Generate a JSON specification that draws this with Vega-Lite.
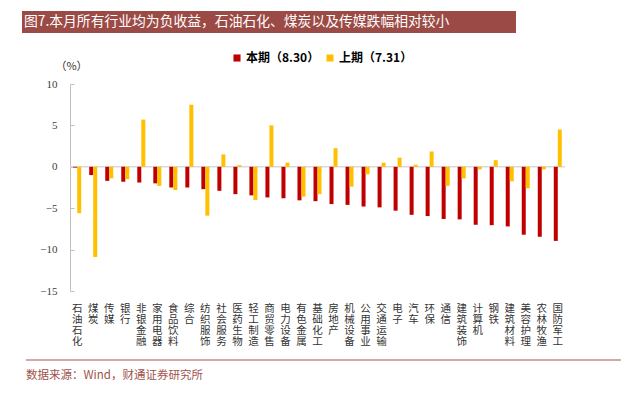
{
  "$schema": "https://vega.github.io/schema/vega-lite/v6.json",
  "background": "white",
  "padding": {"left": 21, "top": 11, "right": 0, "bottom": 0},
  "bounds": "flush",
  "spacing": 51,
  "config": {"view": {"stroke": null}},
  "vconcat": [
    {
      "width": 495,
      "height": 22,
      "data": {"values": [{"title": "图7.本月所有行业均为负收益，石油石化、煤炭以及传媒跌幅相对较小"}]},
      "layer": [
        {
          "mark": {"type": "rect", "color": "#9C4A45"},
          "encoding": {
            "x": {"datum": -0.097, "type": "quantitative", "scale": {"domain": [0, 1]}, "axis": null},
            "x2": {"datum": 0.901},
            "y": {"datum": 0, "type": "quantitative", "scale": {"domain": [0, 1]}, "axis": null},
            "y2": {"datum": 1}
          }
        },
        {
          "mark": {"type": "text", "align": "left", "baseline": "middle", "dx": 2, "color": "white", "font": "Noto Sans CJK SC", "fontSize": 13.8},
          "encoding": {
            "text": {"field": "title"},
            "x": {"datum": -0.097, "type": "quantitative"},
            "y": {"datum": 0.5, "type": "quantitative"}
          }
        }
      ]
    },
    {
      "width": 495,
      "height": 207,
      "data": {"values": [
        {"industry": "石油石化", "period": "本期（8.30）", "value": -0.1},
        {"industry": "石油石化", "period": "上期（7.31）", "value": -5.6},
        {"industry": "煤炭", "period": "本期（8.30）", "value": -1.0},
        {"industry": "煤炭", "period": "上期（7.31）", "value": -10.9},
        {"industry": "传媒", "period": "本期（8.30）", "value": -1.7},
        {"industry": "传媒", "period": "上期（7.31）", "value": -1.4},
        {"industry": "银行", "period": "本期（8.30）", "value": -1.8},
        {"industry": "银行", "period": "上期（7.31）", "value": -1.5},
        {"industry": "非银金融", "period": "本期（8.30）", "value": -1.9},
        {"industry": "非银金融", "period": "上期（7.31）", "value": 5.7},
        {"industry": "家用电器", "period": "本期（8.30）", "value": -2.0},
        {"industry": "家用电器", "period": "上期（7.31）", "value": -2.3},
        {"industry": "食品饮料", "period": "本期（8.30）", "value": -2.5},
        {"industry": "食品饮料", "period": "上期（7.31）", "value": -2.8},
        {"industry": "综合", "period": "本期（8.30）", "value": -2.5},
        {"industry": "综合", "period": "上期（7.31）", "value": 7.5},
        {"industry": "纺织服饰", "period": "本期（8.30）", "value": -2.7},
        {"industry": "纺织服饰", "period": "上期（7.31）", "value": -5.9},
        {"industry": "社会服务", "period": "本期（8.30）", "value": -2.9},
        {"industry": "社会服务", "period": "上期（7.31）", "value": 1.5},
        {"industry": "医药生物", "period": "本期（8.30）", "value": -3.3},
        {"industry": "医药生物", "period": "上期（7.31）", "value": 0.2},
        {"industry": "轻工制造", "period": "本期（8.30）", "value": -3.45},
        {"industry": "轻工制造", "period": "上期（7.31）", "value": -4.0},
        {"industry": "商贸零售", "period": "本期（8.30）", "value": -3.7},
        {"industry": "商贸零售", "period": "上期（7.31）", "value": 5.0},
        {"industry": "电力设备", "period": "本期（8.30）", "value": -3.8},
        {"industry": "电力设备", "period": "上期（7.31）", "value": 0.5},
        {"industry": "有色金属", "period": "本期（8.30）", "value": -4.05},
        {"industry": "有色金属", "period": "上期（7.31）", "value": -3.6},
        {"industry": "基础化工", "period": "本期（8.30）", "value": -4.15},
        {"industry": "基础化工", "period": "上期（7.31）", "value": -3.3},
        {"industry": "房地产", "period": "本期（8.30）", "value": -4.5},
        {"industry": "房地产", "period": "上期（7.31）", "value": 2.25},
        {"industry": "机械设备", "period": "本期（8.30）", "value": -4.6},
        {"industry": "机械设备", "period": "上期（7.31）", "value": -2.4},
        {"industry": "公用事业", "period": "本期（8.30）", "value": -4.8},
        {"industry": "公用事业", "period": "上期（7.31）", "value": -0.9},
        {"industry": "交通运输", "period": "本期（8.30）", "value": -4.9},
        {"industry": "交通运输", "period": "上期（7.31）", "value": 0.5},
        {"industry": "电子", "period": "本期（8.30）", "value": -5.3},
        {"industry": "电子", "period": "上期（7.31）", "value": 1.1},
        {"industry": "汽车", "period": "本期（8.30）", "value": -5.8},
        {"industry": "汽车", "period": "上期（7.31）", "value": 0.25},
        {"industry": "环保", "period": "本期（8.30）", "value": -5.95},
        {"industry": "环保", "period": "上期（7.31）", "value": 1.85},
        {"industry": "通信", "period": "本期（8.30）", "value": -6.3},
        {"industry": "通信", "period": "上期（7.31）", "value": -2.3},
        {"industry": "建筑装饰", "period": "本期（8.30）", "value": -6.35},
        {"industry": "建筑装饰", "period": "上期（7.31）", "value": -1.4},
        {"industry": "计算机", "period": "本期（8.30）", "value": -7.0},
        {"industry": "计算机", "period": "上期（7.31）", "value": -0.3},
        {"industry": "钢铁", "period": "本期（8.30）", "value": -7.05},
        {"industry": "钢铁", "period": "上期（7.31）", "value": 0.8},
        {"industry": "建筑材料", "period": "本期（8.30）", "value": -7.2},
        {"industry": "建筑材料", "period": "上期（7.31）", "value": -1.75},
        {"industry": "美容护理", "period": "本期（8.30）", "value": -8.2},
        {"industry": "美容护理", "period": "上期（7.31）", "value": -2.6},
        {"industry": "农林牧渔", "period": "本期（8.30）", "value": -8.45},
        {"industry": "农林牧渔", "period": "上期（7.31）", "value": -0.3},
        {"industry": "国防军工", "period": "本期（8.30）", "value": -8.95},
        {"industry": "国防军工", "period": "上期（7.31）", "value": 4.5}
      ]},
      "layer": [
        {
          "data": {"values": [{}]},
          "mark": {"type": "rule", "color": "#d9d9d9", "strokeWidth": 1.5},
          "encoding": {"y": {"datum": 0, "type": "quantitative"}}
        },
        {
          "mark": {"type": "bar"},
          "encoding": {
            "x": {
              "field": "industry", "type": "nominal", "sort": null,
              "scale": {"paddingInner": 0.5, "paddingOuter": 0.2},
              "axis": {
                "title": null, "domain": false, "ticks": false, "labelAngle": 0,
                "labelExpr": "split(datum.label, '')",
                "labelBaseline": "top", "labelPadding": 12, "labelFont": "Noto Sans CJK SC",
                "labelFontSize": 10.5, "labelLineHeight": 11.2, "labelColor": "#333333",
                "labelOverlap": false, "labelBound": false
              }
            },
            "xOffset": {"field": "period", "type": "nominal", "sort": ["本期（8.30）", "上期（7.31）"]},
            "y": {
              "field": "value", "type": "quantitative",
              "scale": {"domain": [-15, 10], "nice": false},
              "axis": {
                "title": "（%）", "titleAngle": 0, "titleX": 1, "titleY": -15,
                "titleAlign": "center", "titleBaseline": "alphabetic",
                "titleFont": "Noto Sans CJK SC", "titleFontSize": 11, "titleFontWeight": "normal", "titleColor": "#333333",
                "values": [-15, -10, -5, 0, 5, 10], "grid": false,
                "domainColor": "#bfbfbf", "tickColor": "#bfbfbf", "tickSize": -4, "labelPadding": 17,
                "labelFont": "Liberation Serif", "labelFontSize": 11, "labelColor": "#404040"
              }
            },
            "color": {
              "field": "period", "type": "nominal",
              "scale": {"domain": ["本期（8.30）", "上期（7.31）"], "range": ["#C00000", "#FFC000"]},
              "legend": {
                "orient": "none", "legendX": 161, "legendY": 41, "direction": "horizontal",
                "title": null, "symbolType": "square", "symbolSize": 50, "symbolStrokeWidth": 0,
                "labelFont": "Noto Sans CJK SC", "labelFontSize": 12, "labelFontWeight": "bold",
                "labelColor": "#000000", "columnPadding": 4, "labelOffset": 3, "padding": 0
              }
            }
          }
        }
      ]
    },
    {
      "width": 495,
      "height": 40,
      "data": {"values": [{"src": "数据来源：Wind，财通证券研究所"}]},
      "layer": [
        {
          "mark": {"type": "rule", "color": "#A9544D", "strokeWidth": 1.2},
          "encoding": {
            "x": {"datum": -0.0889, "type": "quantitative", "scale": {"domain": [0, 1]}, "axis": null},
            "x2": {"datum": 1.113},
            "y": {"datum": 0.55, "type": "quantitative", "scale": {"domain": [0, 1]}, "axis": null}
          }
        },
        {
          "mark": {"type": "text", "align": "left", "baseline": "middle", "color": "#A0524B", "font": "Noto Sans CJK SC", "fontSize": 11.5},
          "encoding": {
            "text": {"field": "src"},
            "x": {"datum": -0.0889, "type": "quantitative"},
            "y": {"datum": 0.15, "type": "quantitative"}
          }
        }
      ]
    }
  ]
}
